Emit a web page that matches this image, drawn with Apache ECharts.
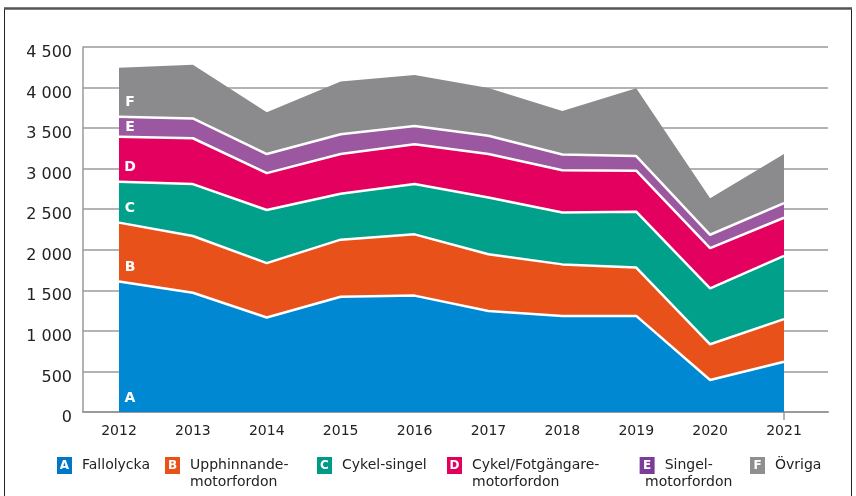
<!DOCTYPE html>
<html>
<head>
<meta charset="utf-8">
<script src="https://cdn.jsdelivr.net/npm/echarts@6/dist/echarts.min.js"></script>
<style>
  html, body { margin: 0; padding: 0; background: #fff; }
  #chart { width: 856px; height: 496px; }
</style>
</head>
<body>
<div id="chart"></div>
<script>
const years = ['2012', '2013', '2014', '2015', '2016', '2017', '2018', '2019', '2020', '2021'];

const fallolycka = [1610, 1470, 1165, 1420, 1435, 1245, 1185, 1185, 395, 620];
const upphinnande = [725, 700, 670, 705, 755, 700, 635, 595, 440, 525];
const cykelSingel = [505, 640, 655, 565, 620, 700, 640, 690, 690, 780];
const cykelFotgangare = [555, 565, 455, 490, 490, 535, 520, 505, 495, 470];
const singelMotor = [245, 245, 235, 245, 225, 225, 195, 180, 165, 180];
const ovriga = [605, 660, 515, 650, 630, 590, 535, 835, 450, 605];

const names = ['Fallolycka', 'Upphinnande-\nmotorfordon', 'Cykel-singel', 'Cykel/Fotgängare-\nmotorfordon', 'Singel-\nmotorfordon', 'Övriga'];
const letters = ['A', 'B', 'C', 'D', 'E', 'F'];
const yMin = 0, yMax = 4500, yStep = 500;

const allSeries = [fallolycka, upphinnande, cykelSingel, cykelFotgangare, singelMotor, ovriga];
const areaColors = ['#0089d2', '#e8511a', '#00a08a', '#e3005f', '#9b58a0', '#8b8b8d'];
const legendColors = ['#0077c8', '#e8511a', '#009a85', '#e2005f', '#7b3e98', '#8f8f8f'];
const legendLeft = [52, 160, 312, 442, 615, 745];

const font = 'DejaVu Sans';

function fmt(v) {
  if (v < 1000) return String(v);
  const rest = String(v % 1000).padStart(3, '0');
  return Math.floor(v / 1000) + ' ' + rest;
}

const chart = echarts.init(document.getElementById('chart'));

// band letters sit near the bottom of each band at 2012
const letterData = letters.map((l, i) => {
  let base = 0;
  for (let k = 0; k < i; k++) base += allSeries[k][0];
  return { value: [years[0], base], label: { formatter: l, offset: [11, i === 4 ? -9 : -14] } };
});

const series = allSeries.map((d, i) => ({
  name: names[i],
  type: 'line',
  xAxisIndex: 1,
  yAxisIndex: 1,
  stack: 'total',
  data: d,
  showSymbol: false,
  symbol: 'none',
  z: 8 - i,
  lineStyle: { color: '#fff', width: i === allSeries.length - 1 ? 0 : 2.5 },
  itemStyle: { color: areaColors[i] },
  areaStyle: { color: areaColors[i], opacity: 1 },
  emphasis: { disabled: true }
}));

series.push({
  type: 'scatter',
  xAxisIndex: 1,
  yAxisIndex: 1,
  symbolSize: 0,
  z: 12,
  data: letterData,
  silent: true,
  itemStyle: { opacity: 1 },
  label: {
    show: true,
    position: 'inside',
    color: '#fff',
    opacity: 1,
    fontFamily: font,
    fontWeight: 'bold',
    fontSize: 14
  }
});

const legends = names.map((n, i) => ({
  data: [n],
  left: legendLeft[i],
  top: 457,
  padding: 0,
  icon: 'none',
  itemWidth: 0,
  itemHeight: 10,
  selectedMode: false,
  formatter: function (name) {
    const parts = name.split('\n');
    let s = '{b|' + letters[i] + '}{t|' + parts[0] + '}';
    for (let k = 1; k < parts.length; k++) s += '\n{s| }{t|' + parts[k] + '}';
    return s;
  },
  textStyle: {
    rich: {
      b: {
        width: 15, height: 17, lineHeight: 17, align: 'center',
        backgroundColor: legendColors[i], color: '#fff',
        fontFamily: font, fontWeight: 'bold', fontSize: 12
      },
      t: { padding: [0, 0, 0, 10], fontFamily: font, fontSize: 14, lineHeight: 17, color: '#222' },
      s: { width: 15, fontSize: 14, lineHeight: 17 }
    }
  }
}));

chart.setOption({
  animation: false,
  backgroundColor: '#fff',
  legend: legends,
  grid: [
    { left: 83, right: 28, top: 47, bottom: 84 },
    { left: 119, right: 72, top: 47, bottom: 84 }
  ],
  xAxis: [
    {
      gridIndex: 0, type: 'value', min: 0, max: 1,
      axisLine: { show: true, lineStyle: { color: '#9a9a9a', width: 2 } },
      axisTick: { show: false }, axisLabel: { show: false }, splitLine: { show: false }
    },
    {
      gridIndex: 1, type: 'category', data: years, boundaryGap: false,
      axisLine: { show: false },
      axisTick: {
        show: true, length: 8, inside: false,
        interval: function (idx) { return idx === years.length - 1; },
        lineStyle: { color: '#9a9a9a', width: 1.5 }
      },
      axisLabel: { margin: 12, fontFamily: font, fontSize: 14, color: '#222' },
      splitLine: { show: false }
    }
  ],
  yAxis: [
    {
      gridIndex: 0, type: 'value', min: yMin, max: yMax, interval: yStep,
      axisLine: { show: true, lineStyle: { color: '#9a9a9a', width: 1.5 } },
      axisTick: { show: false },
      axisLabel: {
        margin: 11, fontFamily: font, fontSize: 16, color: '#222',
        verticalAlign: 'top', lineHeight: 12, formatter: fmt
      },
      splitLine: { show: true, lineStyle: { color: '#9a9a9a', width: 1.5 } }
    },
    { gridIndex: 1, type: 'value', min: yMin, max: yMax, interval: yStep, show: false }
  ],
  graphic: [
    { type: 'rect', shape: { x: 4.5, y: 8.5, width: 847, height: 500 }, style: { fill: 'none', stroke: '#222', lineWidth: 1 }, silent: true },
    { type: 'line', shape: { x1: 4, y1: 8.5, x2: 852, y2: 8.5 }, style: { stroke: '#555', lineWidth: 2.5 }, silent: true }
  ],
  series: series
});
</script>
</body>
</html>
